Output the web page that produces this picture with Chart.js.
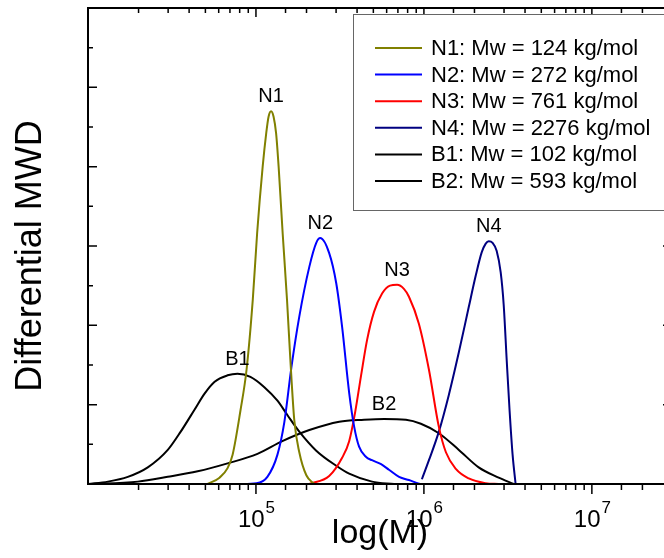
<!DOCTYPE html>
<html>
<head>
<meta charset="utf-8">
<script src="https://cdn.jsdelivr.net/npm/chart.js@4.4.0/dist/chart.umd.min.js"></script>
<style>
  html, body { margin: 0; padding: 0; overflow: hidden; background: #fff; }
  #wrap { width: 680px; height: 558px; }
</style>
</head>
<body>
<div id="wrap"><canvas id="mwd" width="680" height="558"></canvas></div>
<script>
// series names and weight-average molar masses (kg/mol)
const seriesNames = ['N1', 'N2', 'N3', 'N4', 'B1', 'B2'];
const mwValues = [124, 272, 761, 2276, 102, 593];
const seriesColors = ['#808000', '#0000ff', '#ff0000', '#000080', '#000000', '#000000'];

// curves: log10(M) and differential MWD
const n1LogM = [4.712, 4.783, 4.831, 4.861, 4.908, 4.944, 4.981, 5.007, 5.040, 5.061, 5.075, 5.090, 5.105, 5.120, 5.135, 5.159, 5.185, 5.205, 5.228, 5.258, 5.300, 5.347];
const n1Val  = [0, 0.08, 0.20, 0.37, 0.93, 1.44, 2.32, 3.16, 4.00, 4.42, 4.63, 4.70, 4.63, 4.42, 4.00, 3.16, 2.32, 1.56, 0.81, 0.40, 0.11, 0];

const n2LogM = [4.902, 5.003, 5.068, 5.128, 5.169, 5.211, 5.258, 5.318, 5.359, 5.383, 5.436, 5.478, 5.513, 5.555, 5.585, 5.614, 5.656, 5.691, 5.745, 5.792, 5.852, 5.911, 5.988, 6.071];
const n2Val  = [0, 0.01, 0.09, 0.37, 0.78, 1.47, 2.11, 2.74, 3.04, 3.10, 2.91, 2.53, 1.98, 1.15, 0.72, 0.47, 0.34, 0.30, 0.25, 0.18, 0.09, 0.05, 0, 0];

const n3LogM = [5.318, 5.436, 5.513, 5.555, 5.591, 5.626, 5.662, 5.703, 5.751, 5.798, 5.840, 5.881, 5.911, 5.970, 6.030, 6.089, 6.131, 6.190, 6.267, 6.368, 6.445];
const n3Val  = [0, 0.10, 0.33, 0.54, 0.91, 1.37, 1.82, 2.17, 2.40, 2.50, 2.51, 2.46, 2.36, 2.02, 1.44, 0.72, 0.40, 0.19, 0.07, 0.01, 0];

const n4LogM = [5.988, 6.030, 6.089, 6.148, 6.208, 6.267, 6.309, 6.344, 6.368, 6.386, 6.409, 6.433, 6.457, 6.475, 6.493, 6.510, 6.528, 6.546];
const n4Val  = [0.06, 0.30, 0.66, 1.12, 1.66, 2.23, 2.63, 2.92, 3.03, 3.06, 3.04, 2.94, 2.67, 2.26, 1.56, 0.93, 0.37, 0];

const b1LogM = [4.0, 4.119, 4.237, 4.356, 4.475, 4.552, 4.635, 4.694, 4.754, 4.831, 4.890, 4.967, 5.050, 5.128, 5.187, 5.258, 5.359, 5.478, 5.555, 5.691, 5.822];
const b1Val  = [0, 0.03, 0.09, 0.21, 0.43, 0.66, 0.94, 1.14, 1.29, 1.37, 1.39, 1.35, 1.22, 1.05, 0.87, 0.66, 0.42, 0.23, 0.13, 0.03, 0];

const b2LogM = [4.0, 4.297, 4.475, 4.653, 4.831, 5.009, 5.157, 5.318, 5.496, 5.644, 5.763, 5.893, 5.982, 6.089, 6.208, 6.326, 6.445, 6.534];
const b2Val  = [0, 0.03, 0.09, 0.16, 0.26, 0.38, 0.54, 0.68, 0.785, 0.81, 0.82, 0.81, 0.76, 0.64, 0.43, 0.21, 0.08, 0];

// labelled decades on the x axis
const xTickPowers = [5, 6, 7];

const FONT = '"Liberation Sans", Arial, sans-serif';

const allLogM = [n1LogM, n2LogM, n3LogM, n4LogM, b1LogM, b2LogM];
const allVal = [n1Val, n2Val, n3Val, n4Val, b1Val, b2Val];

const datasets = seriesNames.map((name, i) => ({
    label: name + ': Mw = ' + mwValues[i] + ' kg/mol',
    data: allLogM[i].map((lm, j) => ({ x: Math.pow(10, lm), y: allVal[i][j] })),
    borderColor: seriesColors[i],
    borderWidth: 2,
    pointRadius: 0,
    fill: false,
    cubicInterpolationMode: 'monotone'
}));

// frame, inward/outward ticks, decade labels, peak labels and the legend box
const decorPlugin = {
    id: 'decor',
    afterDatasetsDraw(chart) {
        const { ctx, chartArea: a } = chart;
        const x = chart.scales.x, y = chart.scales.y;
        ctx.save();

        ctx.strokeStyle = '#000';
        ctx.lineWidth = 1.5;
        ctx.beginPath();
        x.ticks.forEach(t => {
            const px = x.getPixelForValue(t.value);
            if (px <= a.left + 1 || px >= a.right - 1) return;
            const major = Math.abs(Math.log10(t.value) - Math.round(Math.log10(t.value))) < 1e-6;
            ctx.moveTo(px, a.bottom); ctx.lineTo(px, a.bottom + (major ? 10 : 6));
            ctx.moveTo(px, a.top); ctx.lineTo(px, a.top + (major ? 9 : 5));
        });
        y.ticks.forEach(t => {
            const py = y.getPixelForValue(t.value);
            if (py <= a.top + 1 || py >= a.bottom - 1) return;
            const len = Number.isInteger(t.value) ? 9 : 5;
            ctx.moveTo(a.left, py); ctx.lineTo(a.left + len, py);
            ctx.moveTo(a.right, py); ctx.lineTo(a.right - len, py);
        });
        ctx.stroke();

        ctx.lineWidth = 2;
        ctx.strokeRect(a.left, a.top, a.right - a.left, a.bottom - a.top);

        // 10^n labels
        ctx.fillStyle = '#000';
        ctx.textBaseline = 'alphabetic';
        ctx.textAlign = 'left';
        xTickPowers.forEach(p => {
            const px = x.getPixelForValue(Math.pow(10, p));
            ctx.font = '24px ' + FONT;
            const wb = ctx.measureText('10').width;
            ctx.font = '17px ' + FONT;
            const we = ctx.measureText(String(p)).width;
            const x0 = px - (wb + we) / 2;
            ctx.font = '24px ' + FONT;
            ctx.fillText('10', x0, a.bottom + 43);
            ctx.font = '17px ' + FONT;
            ctx.fillText(String(p), x0 + wb + 1, a.bottom + 29);
        });

        // peak labels
        ctx.font = '20px ' + FONT;
        ctx.textAlign = 'center';
        chart.data.datasets.forEach((ds, i) => {
            let best = ds.data[0];
            ds.data.forEach(d => { if (d.y > best.y) best = d; });
            ctx.fillText(seriesNames[i], x.getPixelForValue(best.x), y.getPixelForValue(best.y) - 9);
        });

        // legend
        const bx = a.left + 265, by = a.top + 6, bh = 196;
        ctx.fillStyle = '#fff';
        ctx.fillRect(bx, by, a.right - bx, bh);
        ctx.strokeStyle = '#666';
        ctx.lineWidth = 1;
        ctx.strokeRect(bx + 0.5, by + 0.5, a.right - bx, bh);
        ctx.font = '22px ' + FONT;
        ctx.textAlign = 'left';
        ctx.textBaseline = 'middle';
        chart.data.datasets.forEach((ds, i) => {
            const ry = a.top + 40 + i * 26.6;
            ctx.strokeStyle = ds.borderColor;
            ctx.lineWidth = 2;
            ctx.beginPath();
            ctx.moveTo(bx + 22, ry); ctx.lineTo(bx + 69, ry);
            ctx.stroke();
            ctx.fillStyle = '#000';
            ctx.fillText(ds.label, bx + 78, ry + 1);
        });
        ctx.restore();
    }
};

new Chart(document.getElementById('mwd'), {
    type: 'line',
    data: { datasets: datasets },
    options: {
        responsive: false,
        animation: false,
        layout: { padding: { top: 8, right: 8, bottom: 0, left: 0 } },
        plugins: { legend: { display: false }, tooltip: { enabled: false } },
        scales: {
            x: {
                type: 'logarithmic',
                min: 1e4,
                max: 3e7,
                grid: { display: false },
                border: { display: false },
                ticks: { display: false },
                title: {
                    display: true, text: 'log(M)', color: '#000',
                    font: { family: FONT, size: 34 },
                    padding: { top: 0, bottom: 4 }
                },
                afterFit: s => { s.height = 74; }
            },
            y: {
                min: 0,
                max: 6,
                grid: { display: false },
                border: { display: false },
                ticks: { display: false, stepSize: 0.5 },
                title: {
                    display: true, text: 'Differential MWD\u00a0\u00a0', color: '#000',
                    font: { family: FONT, size: 36 },
                    padding: { top: 9, bottom: 0 }
                },
                afterFit: s => { s.width = 88; }
            }
        }
    },
    plugins: [decorPlugin]
});
</script>
</body>
</html>
